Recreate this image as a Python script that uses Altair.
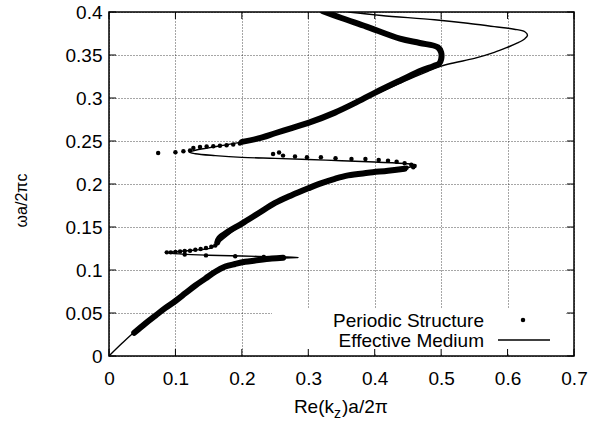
import altair as alt
import pandas as pd

# ---------------- data ----------------
X_TICKS = [0, 0.1, 0.2, 0.3, 0.4, 0.5, 0.6, 0.7]
Y_TICKS = [0, 0.05, 0.1, 0.15, 0.2, 0.25, 0.3, 0.35, 0.4]

# Effective medium dispersion curve (thin line), in drawing order
EM_X = [0.0, 0.02, 0.04, 0.07, 0.10, 0.13, 0.16, 0.19, 0.22, 0.25, 0.285,
        0.26, 0.20, 0.15, 0.11, 0.088,
        0.10, 0.13, 0.155, 0.17, 0.20, 0.25, 0.30, 0.34, 0.39, 0.43, 0.455, 0.462,
        0.45, 0.40, 0.35, 0.30, 0.25, 0.20, 0.16, 0.13, 0.121,
        0.13, 0.15, 0.20, 0.25, 0.30, 0.34, 0.40, 0.44, 0.48, 0.50, 0.52, 0.55,
        0.58, 0.60, 0.615, 0.626, 0.630, 0.626, 0.61, 0.58, 0.54, 0.49, 0.41, 0.36]
EM_Y = [0.0, 0.015, 0.029, 0.047, 0.064, 0.082, 0.098, 0.107, 0.111, 0.1135, 0.1145,
        0.1152, 0.1162, 0.1172, 0.1185, 0.120,
        0.1212, 0.1232, 0.126, 0.135, 0.153, 0.177, 0.194, 0.205, 0.213, 0.217, 0.220, 0.222,
        0.2235, 0.2255, 0.227, 0.2285, 0.2298, 0.231, 0.233, 0.2352, 0.237,
        0.2393, 0.242, 0.249, 0.258, 0.270, 0.282, 0.304, 0.318, 0.331, 0.337, 0.341, 0.346,
        0.353, 0.359, 0.364, 0.369, 0.373, 0.377, 0.380, 0.383, 0.387, 0.391, 0.396, 0.400]

# Periodic structure: dense runs of points (they merge into thick bands)
BAND_X = [0.038, 0.055, 0.07, 0.085, 0.10, 0.115, 0.13, 0.145, 0.16, 0.175, 0.19, 0.205,
          0.22, 0.245, 0.262,
          0.163, 0.166, 0.18, 0.20, 0.225, 0.25, 0.275, 0.30, 0.32, 0.34, 0.36, 0.39,
          0.42, 0.445,
          0.20, 0.225, 0.25, 0.275, 0.30, 0.34, 0.37, 0.40, 0.44, 0.47, 0.488, 0.497,
          0.50, 0.50, 0.495, 0.468, 0.438, 0.3875, 0.35, 0.322]
BAND_Y = [0.027, 0.038, 0.047, 0.056, 0.064, 0.073, 0.082, 0.090, 0.098, 0.104, 0.107,
          0.1095, 0.111, 0.1133, 0.1142,
          0.132, 0.137, 0.145, 0.154, 0.166, 0.178, 0.187, 0.195, 0.201, 0.206, 0.210,
          0.213, 0.2155, 0.2178,
          0.249, 0.253, 0.259, 0.265, 0.271, 0.283, 0.294, 0.306, 0.321, 0.332, 0.337,
          0.340, 0.345, 0.353, 0.359, 0.364, 0.369, 0.383, 0.393, 0.401]
BAND_SEG = (["a"] * 15) + (["c"] * 14) + (["d"] * 20)

# Periodic structure: separate points
DOT_X = [0.087, 0.093, 0.100, 0.107, 0.114, 0.122, 0.130, 0.138, 0.146, 0.154, 0.160,
         0.114, 0.146, 0.190, 0.233, 0.260,
         0.074, 0.100, 0.112, 0.122, 0.127, 0.137, 0.147, 0.157, 0.167, 0.177, 0.187, 0.197,
         0.247, 0.256, 0.262, 0.280, 0.298, 0.319, 0.341, 0.365, 0.386, 0.406, 0.420, 0.433,
         0.445, 0.455, 0.460, 0.458, 0.448, 0.433, 0.420, 0.407]
DOT_Y = [0.1205, 0.1205, 0.121, 0.1215, 0.122, 0.1225, 0.1235, 0.1245, 0.1255, 0.127, 0.1285,
         0.118, 0.117, 0.116, 0.115, 0.1145,
         0.236, 0.237, 0.238, 0.239, 0.242, 0.243, 0.2435, 0.244, 0.2445, 0.245, 0.246, 0.247,
         0.235, 0.2365, 0.233, 0.232, 0.231, 0.231, 0.230, 0.229, 0.229, 0.228, 0.227, 0.226,
         0.224, 0.2225, 0.221, 0.2195, 0.219, 0.2165, 0.2155, 0.2145]

LEGEND_LABELS = ["Periodic Structure", "Effective Medium"]
X_TITLE_PARTS = ["Re(k", "z", ")a/2π"]
Y_TITLE = "ωa/2πc"

# ---------------- layout / style ----------------
W, H = 465, 344
FONT = "Liberation Sans"
FS = 19
TICK = 7

em = pd.DataFrame({"x": EM_X, "y": EM_Y, "i": list(range(len(EM_X)))})
band = pd.DataFrame({"x": BAND_X, "y": BAND_Y, "seg": BAND_SEG,
                     "i": list(range(len(BAND_X)))})
dots = pd.DataFrame({"x": DOT_X, "y": DOT_Y})
xt = pd.DataFrame({"x": X_TICKS})
yt = pd.DataFrame({"y": Y_TICKS})
one = pd.DataFrame({"a": [0]})

xs = alt.Scale(domain=[0, 0.7], nice=False, zero=False)
ys = alt.Scale(domain=[0, 0.4], nice=False, zero=False)

xaxis = alt.Axis(values=X_TICKS, format="~g", title=None, grid=True, ticks=False,
                 domain=False, labelFont=FONT, labelFontSize=FS, labelColor="black",
                 labelPadding=22, labelBaseline="middle", labelFlush=False)
yaxis = alt.Axis(values=Y_TICKS, format="~g", title=Y_TITLE, grid=True, ticks=False,
                 domain=False, labelFont=FONT, labelFontSize=FS, labelColor="black",
                 labelPadding=7, labelFlush=False,
                 titleFont=FONT, titleFontSize=16, titleFontWeight="normal",
                 titleColor="black", titleX=-88, titleY=188, titleAngle=270,
                 titleBaseline="middle", titleAlign="center")

X = alt.X("x:Q", scale=xs, axis=xaxis)
Y = alt.Y("y:Q", scale=ys, axis=yaxis)

# white key box (blanks the grid like gnuplot)
keybox = alt.Chart(one).mark_rect(color="white").encode(
    x=alt.value(163), x2=alt.value(457), y=alt.value(296), y2=alt.value(342))

band_layer = alt.Chart(band).mark_line(
    color="black", strokeWidth=6, strokeCap="round", strokeJoin="round",
    interpolate="catmull-rom", clip=True
).encode(x=X, y=Y, detail="seg:N", order="i:Q")

dot_layer = alt.Chart(dots).mark_circle(color="black", size=20, opacity=1, clip=True).encode(
    x=X, y=Y)

em_layer = alt.Chart(em).mark_line(color="black", strokeWidth=1.4,
                                   interpolate="catmull-rom", clip=True).encode(
    x=X, y=Y, order="i:Q")

xt_bot = alt.Chart(xt).mark_rule(color="black", strokeWidth=1).encode(
    x=X, y=alt.value(H), y2=alt.value(H - TICK))
xt_top = alt.Chart(xt).mark_rule(color="black", strokeWidth=1).encode(
    x=X, y=alt.value(0), y2=alt.value(TICK))
yt_left = alt.Chart(yt).mark_rule(color="black", strokeWidth=1).encode(
    y=Y, x=alt.value(0), x2=alt.value(TICK))
yt_right = alt.Chart(yt).mark_rule(color="black", strokeWidth=1).encode(
    y=Y, x=alt.value(W), x2=alt.value(W - TICK))

# legend
leg_text = pd.DataFrame({"label": LEGEND_LABELS, "ypos": [315, 335]})
leg_txt = alt.Chart(leg_text).mark_text(
    font=FONT, fontSize=FS, align="right", baseline="alphabetic", color="black"
).encode(text="label:N", x=alt.value(375), y=alt.Y("ypos:Q", scale=None))
leg_dot = alt.Chart(one).mark_circle(color="black", size=20, opacity=1).encode(
    x=alt.value(414), y=alt.value(308))
leg_line = alt.Chart(one).mark_rule(color="black", strokeWidth=1.6).encode(
    x=alt.value(389), x2=alt.value(441), y=alt.value(328))

# x title with subscript
xtitle = pd.DataFrame({"t": X_TITLE_PARTS, "px": [225, 225, 233], "py": [401, 406, 401]})
xt1 = alt.Chart(xtitle.iloc[[0]]).mark_text(
    font=FONT, fontSize=FS, align="right", baseline="alphabetic", color="black"
).encode(text="t:N", x=alt.X("px:Q", scale=None), y=alt.Y("py:Q", scale=None))
xt2 = alt.Chart(xtitle.iloc[[1]]).mark_text(
    font=FONT, fontSize=14, align="left", baseline="alphabetic", color="black"
).encode(text="t:N", x=alt.X("px:Q", scale=None), y=alt.Y("py:Q", scale=None))
xt3 = alt.Chart(xtitle.iloc[[2]]).mark_text(
    font=FONT, fontSize=FS, align="left", baseline="alphabetic", color="black"
).encode(text="t:N", x=alt.X("px:Q", scale=None), y=alt.Y("py:Q", scale=None))

chart = alt.layer(
    keybox, band_layer, dot_layer, em_layer,
    xt_bot, xt_top, yt_left, yt_right,
    leg_txt, leg_dot, leg_line, xt1, xt2, xt3
).properties(
    width=W, height=H,
    padding={"left": 109, "top": 12, "right": 18, "bottom": 68},
    autosize=alt.AutoSizeParams(type="none"),
    background="white",
).configure_view(
    stroke="black", strokeWidth=1.5
).configure_axis(
    gridColor="black", gridDash=[1, 2], gridWidth=1, gridOpacity=0.7
)

chart.save("out.html", embed_options={"renderer": "svg", "actions": False})
